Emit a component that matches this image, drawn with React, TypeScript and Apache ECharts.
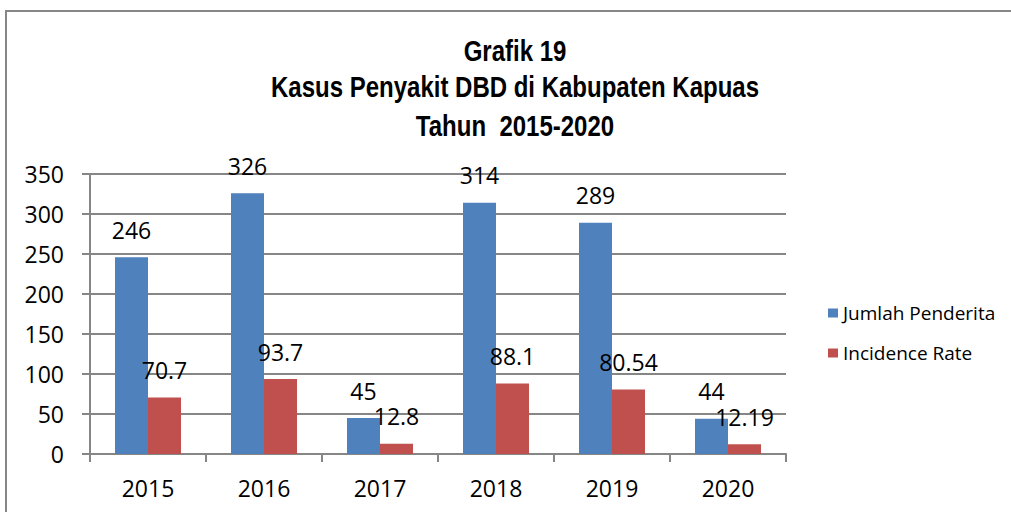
import React, { useEffect, useRef } from "react";
import * as echarts from "echarts";

const categories = ["2015", "2016", "2017", "2018", "2019", "2020"];
const jumlahPenderita = [246, 326, 45, 314, 289, 44];
const incidenceRate = [70.7, 93.7, 12.8, 88.1, 80.54, 12.19];
const seriesNames = ["Jumlah Penderita", "Incidence Rate"];
const titleLines = ["Grafik 19", "Kasus Penyakit DBD di Kabupaten Kapuas", "Tahun  2015-2020"];

const BASE_FONT = "'Open Sans', 'Noto Sans', sans-serif";
const TITLE_FONT = "'Liberation Sans', Arial, sans-serif";

export default function App() {
  const ref = useRef<HTMLDivElement>(null);
  useEffect(() => {
    if (!ref.current) return;
    const chart = echarts.init(ref.current, null, { renderer: "svg" });
    const titleY = [51, 87, 126];
    chart.setOption({
      animation: false,
      backgroundColor: "#ffffff",
      graphic: [
        {
          type: "rect",
          shape: { x: 6, y: 11, width: 1100, height: 600 },
          style: { fill: "none", stroke: "#868686", lineWidth: 2 },
          silent: true,
        },
        ...titleLines.map((t, i) => ({
          type: "text",
          x: 515,
          y: titleY[i],
          scaleX: 0.8,
          style: {
            text: t,
            x: 0,
            y: 0,
            fill: "#000",
            font: `bold 30px ${TITLE_FONT}`,
            textAlign: "center",
            textVerticalAlign: "middle",
          },
        })),
      ],
      legend: {
        orient: "vertical",
        left: 828,
        top: 303,
        padding: 0,
        itemWidth: 10,
        itemHeight: 9,
        itemGap: 20,
        icon: "rect",
        textStyle: { fontFamily: BASE_FONT, fontSize: 19, color: "#000", lineHeight: 20 },
        data: seriesNames,
      },
      grid: { left: 90, top: 174, width: 696, height: 280, containLabel: false },
      xAxis: {
        type: "category",
        data: categories,
        axisLine: { lineStyle: { color: "#868686", width: 2 } },
        axisTick: { show: true, length: 8, lineStyle: { color: "#868686", width: 2 } },
        axisLabel: { fontFamily: BASE_FONT, fontSize: 23, color: "#000", margin: 22 },
      },
      yAxis: {
        type: "value",
        min: 0,
        max: 350,
        interval: 50,
        axisLine: { show: true, lineStyle: { color: "#868686", width: 2 } },
        axisTick: { show: true, length: 8, lineStyle: { color: "#868686", width: 2 } },
        splitLine: { lineStyle: { color: "#868686", width: 2 } },
        axisLabel: { fontFamily: BASE_FONT, fontSize: 23, color: "#000", margin: 26 },
      },
      series: [
        {
          name: seriesNames[0],
          type: "bar",
          data: jumlahPenderita,
          barWidth: 33,
          barGap: "0%",
          itemStyle: { color: "#4F81BD" },
          label: {
            show: true,
            position: "top",
            distance: 16,
            fontFamily: BASE_FONT,
            fontSize: 23,
            color: "#000",
          },
        },
        {
          name: seriesNames[1],
          type: "bar",
          data: incidenceRate,
          barWidth: 33,
          barGap: "0%",
          itemStyle: { color: "#C0504D" },
          label: {
            show: true,
            position: "top",
            distance: 16,
            fontFamily: BASE_FONT,
            fontSize: 23,
            color: "#000",
          },
        },
      ],
    });
    return () => chart.dispose();
  }, []);
  return (
    <div
      ref={ref}
      style={{ position: "absolute", left: 0, top: 0, width: 1011, height: 512 }}
    />
  );
}
